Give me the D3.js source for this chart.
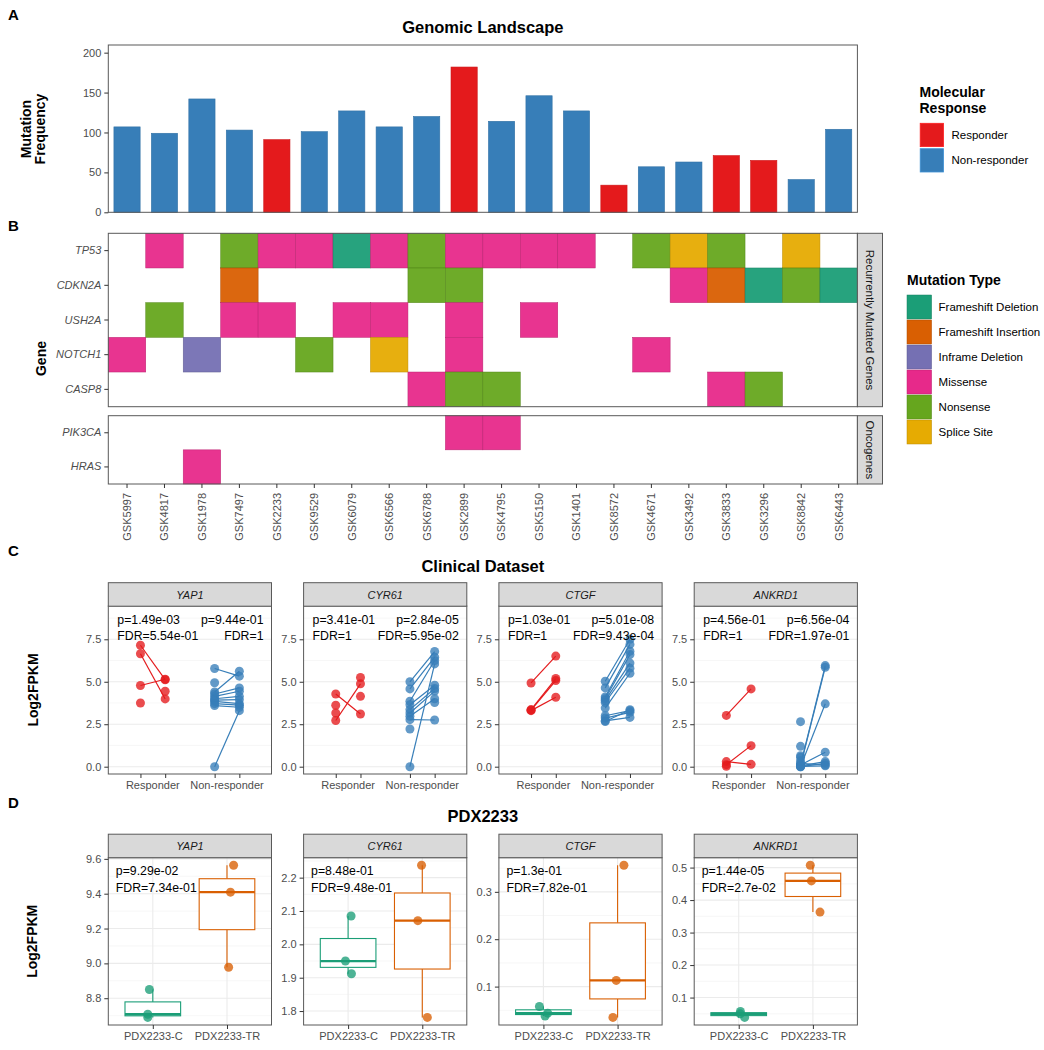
<!DOCTYPE html>
<html>
<head>
<meta charset="utf-8">
<script src="https://cdn.jsdelivr.net/npm/d3@7"></script>
<style>
  body { margin: 0; background: #fff; }
  text { font-family: "Liberation Sans", Arial, sans-serif; }
</style>
</head>
<body>
<div id="chart"></div>
<script>
// ---------- data ----------
const samples = ['GSK5997', 'GSK4817', 'GSK1978', 'GSK7497', 'GSK2233', 'GSK9529', 'GSK6079',
    'GSK6566', 'GSK6788', 'GSK2899', 'GSK4795', 'GSK5150', 'GSK1401', 'GSK8572', 'GSK4671',
    'GSK3492', 'GSK3833', 'GSK3296', 'GSK8842', 'GSK6443'];
const mutationFreq = [107, 99, 142, 103, 91, 101, 127, 107, 120, 182, 114, 146, 127, 34, 57, 63, 71, 65, 41, 104];
const response = ['Non-responder', 'Non-responder', 'Non-responder', 'Non-responder', 'Responder',
    'Non-responder', 'Non-responder', 'Non-responder', 'Non-responder', 'Responder', 'Non-responder',
    'Non-responder', 'Non-responder', 'Responder', 'Non-responder', 'Non-responder', 'Responder',
    'Responder', 'Non-responder', 'Non-responder'];
const responseLevels = ['Responder', 'Non-responder'];

const recurrentGenes = ['TP53', 'CDKN2A', 'USH2A', 'NOTCH1', 'CASP8'];
const oncoGenes = ['PIK3CA', 'HRAS'];
const mutationTypes = ['Frameshift Deletion', 'Frameshift Insertion', 'Inframe Deletion', 'Missense', 'Nonsense', 'Splice Site'];
// one entry per sample (same order as samples)
const mutTP53   = [null, 'Missense', null, 'Nonsense', 'Missense', 'Missense', 'Frameshift Deletion', 'Missense', 'Nonsense', 'Missense', 'Missense', 'Missense', 'Missense', null, 'Nonsense', 'Splice Site', 'Nonsense', null, 'Splice Site', null];
const mutCDKN2A = [null, null, null, 'Frameshift Insertion', null, null, null, null, 'Nonsense', 'Nonsense', null, null, null, null, null, 'Missense', 'Frameshift Insertion', 'Frameshift Deletion', 'Nonsense', 'Frameshift Deletion'];
const mutUSH2A  = [null, 'Nonsense', null, 'Missense', 'Missense', null, 'Missense', 'Missense', null, 'Missense', null, 'Missense', null, null, null, null, null, null, null, null];
const mutNOTCH1 = ['Missense', null, 'Inframe Deletion', null, null, 'Nonsense', null, 'Splice Site', null, 'Missense', null, null, null, null, 'Missense', null, null, null, null, null];
const mutCASP8  = [null, null, null, null, null, null, null, null, 'Missense', 'Nonsense', 'Nonsense', null, null, null, null, null, 'Missense', 'Nonsense', null, null];
const mutPIK3CA = [null, null, null, null, null, null, null, null, null, 'Missense', 'Missense', null, null, null, null, null, null, null, null, null];
const mutHRAS   = [null, null, 'Missense', null, null, null, null, null, null, null, null, null, null, null, null, null, null, null, null, null];

// clinical dataset: paired pre / post values (null = unpaired)
const clinGenes = ['YAP1', 'CYR61', 'CTGF', 'ANKRD1'];
const yap1RespPre  = [7.15, 6.65, 4.78, 3.75, null];
const yap1RespPost = [5.12, 3.99, 5.15, null, 4.44];
const yap1NonPre   = [5.78, 4.94, 4.40, 4.28, 4.14, 4.00, 3.92, 3.85, 3.71, 3.60, 0.00];
const yap1NonPost  = [5.33, null, 5.62, 4.64, 4.44, 4.14, 3.95, 3.71, 3.62, 3.50, 3.30];
const cyr61RespPre  = [4.28, 2.72, 3.62, 3.16, null, null];
const cyr61RespPost = [3.10, 4.88, null, null, 5.25, 4.14];
const cyr61NonPre   = [5.00, 4.58, 3.85, 3.65, 3.36, 3.16, 2.97, 2.77, 0.00, 2.22, null];
const cyr61NonPost  = [6.78, 6.45, 6.25, 4.80, 4.60, 4.45, 4.00, 2.75, 6.05, null, 3.78];
const ctgfRespPre  = [4.93, 3.36, 3.30, 3.33];
const ctgfRespPost = [6.51, 5.19, 4.09, 5.07];
const ctgfNonPre   = [5.03, 4.64, 4.10, 4.00, 3.90, 3.78, 3.45, 3.00, 2.86, 2.70, 2.66];
const ctgfNonPost  = [7.50, 7.20, 6.80, 6.60, 6.10, 5.80, 5.50, 3.30, 3.20, 2.90, 3.35];
const ankrd1RespPre  = [3.02, 0.12, 0.30, 0.02];
const ankrd1RespPost = [4.58, 1.24, 0.14, null];
const ankrd1NonPre   = [0.10, 0.05, 0.00, 0.10, 0.05, 0.00, 0.20, 0.02, 2.65, 1.20, 0.65, 0.55, 0.35];
const ankrd1NonPost  = [5.95, 5.85, 3.70, 0.85, 0.30, 0.20, 0.10, 0.05, null, null, null, null, null];
const clinRespP   = ['p=1.49e-03', 'p=3.41e-01', 'p=1.03e-01', 'p=4.56e-01'];
const clinRespFDR = ['FDR=5.54e-01', 'FDR=1', 'FDR=1', 'FDR=1'];
const clinNonP    = ['p=9.44e-01', 'p=2.84e-05', 'p=5.01e-08', 'p=6.56e-04'];
const clinNonFDR  = ['FDR=1', 'FDR=5.95e-02', 'FDR=9.43e-04', 'FDR=1.97e-01'];

// PDX2233: three replicates per arm, with the jitter seen in the figure
const pdxGroups = ['PDX2233-C', 'PDX2233-TR'];
const yap1C = [8.850, 8.708, 8.690],    yap1TR = [9.563, 9.409, 8.978];
const cyr61C = [2.085, 1.950, 1.912],   cyr61TR = [2.237, 2.071, 1.781];
const ctgfC = [0.058, 0.044, 0.038],    ctgfTR = [0.356, 0.113, 0.035];
const ankrd1C = [0.057, 0.050, 0.039],  ankrd1TR = [0.507, 0.459, 0.363];
const yap1JitC = [-0.046, -0.068, -0.068],  yap1JitTR = [0.089, 0.047, 0.022];
const cyr61JitC = [0.040, -0.036, 0.045],   cyr61JitTR = [-0.010, -0.060, 0.068];
const ctgfJitC = [-0.054, 0.058, 0.023],    ctgfJitTR = [0.085, -0.018, -0.063];
const ankrd1JitC = [0.023, 0.020, 0.080],   ankrd1JitTR = [-0.035, -0.020, 0.096];
const yap1Ticks = [8.8, 9.0, 9.2, 9.4, 9.6];
const cyr61Ticks = [1.8, 1.9, 2.0, 2.1, 2.2];
const ctgfTicks = [0.1, 0.2, 0.3];
const ankrd1Ticks = [0.1, 0.2, 0.3, 0.4, 0.5];
const pdxP   = ['p=9.29e-02', 'p=8.48e-01', 'p=1.3e-01', 'p=1.44e-05'];
const pdxFDR = ['FDR=7.34e-01', 'FDR=9.48e-01', 'FDR=7.82e-01', 'FDR=2.7e-02'];

// ---------- setup ----------
const svg = d3.select('#chart').append('svg')
    .attr('width', 1044).attr('height', 1050);

const frameCol = '#595959', gridCol = '#ebebeb', minorCol = '#f4f4f4', tickText = '#4d4d4d';
const respColor = d3.scaleOrdinal().domain(responseLevels).range(['#E41A1C', '#377EB8']);
const mutColor = d3.scaleOrdinal().domain(mutationTypes)
    .range(['#1B9E77', '#D95F02', '#7570B3', '#E7298A', '#66A61E', '#E6AB02']);
const pdxColor = d3.scaleOrdinal().domain(pdxGroups).range(['#1B9E77', '#D95F02']);

const plotL = 108.3, plotR = 857.4;

function styleAxis(g) {
    g.attr('font-family', null).attr('font-size', null);
    g.select('.domain').remove();
    g.selectAll('line').attr('stroke', '#333');
    g.selectAll('text').attr('fill', tickText).style('font-size', '11px');
}

function label(txt, x, y, size, opts = {}) {
    const t = svg.append('text')
        .attr('x', x).attr('y', y)
        .style('font-size', size + 'px')
        .style('font-weight', opts.bold ? 'bold' : 'normal')
        .style('font-style', opts.italic ? 'italic' : 'normal')
        .attr('fill', opts.fill || '#000')
        .attr('text-anchor', opts.anchor || 'start')
        .text(txt);
    if (opts.rotate) t.attr('transform', `rotate(${opts.rotate},${x},${y})`);
    return t;
}

// ---------- A: genomic landscape ----------
label('A', 8, 20, 15, {bold: true});
label('Genomic Landscape', (plotL + plotR) / 2, 33.3, 16.5, {bold: true, anchor: 'middle'});

const xBar = d3.scaleBand().domain(samples).range([plotL, plotR]).paddingInner(0.3).paddingOuter(0.15);
const yBar = d3.scaleLinear().domain([0, 209.6]).range([212.3, 45]);

const gA = svg.append('g');
gA.selectAll('.bar')
    .data(samples)
    .enter()
    .append('rect')
    .attr('x', d => xBar(d))
    .attr('y', (d, i) => yBar(mutationFreq[i]))
    .attr('width', xBar.bandwidth())
    .attr('height', (d, i) => yBar(0) - yBar(mutationFreq[i]))
    .attr('fill', (d, i) => respColor(response[i]))
    .attr('stroke', (d, i) => d3.color(respColor(response[i])).darker(0.3))
    .attr('stroke-width', 0.6);
gA.append('rect')
    .attr('x', plotL).attr('y', 45).attr('width', plotR - plotL).attr('height', 212.3 - 45)
    .attr('fill', 'none').attr('stroke', frameCol);
gA.append('g')
    .attr('transform', `translate(${plotL},0)`)
    .call(d3.axisLeft(yBar).tickValues([0, 50, 100, 150, 200]).tickSize(4).tickPadding(3))
    .call(styleAxis);
label('Mutation', 30.5, 129, 14, {bold: true, anchor: 'middle', rotate: -90});
label('Frequency', 44.5, 129, 14, {bold: true, anchor: 'middle', rotate: -90});

label('Molecular', 919.5, 97.3, 14, {bold: true});
label('Response', 919.5, 112.7, 14, {bold: true});
responseLevels.forEach((r, i) => {
    svg.append('rect')
        .attr('x', 920.2).attr('y', 123.3 + i * 25.4).attr('width', 23.3).attr('height', 23.3)
        .attr('fill', respColor(r)).attr('stroke', d3.color(respColor(r)).brighter(0.4)).attr('stroke-width', 0.8);
    label(r, 951.5, 123.3 + i * 25.4 + 15.5, 11.5);
});

// ---------- B: mutation heatmap ----------
label('B', 8, 230.5, 15, {bold: true});

const facets = [
    {genes: recurrentGenes, calls: [mutTP53, mutCDKN2A, mutUSH2A, mutNOTCH1, mutCASP8],
        top: 233.3, bottom: 406.7, strip: 'Recurrently Mutated Genes'},
    {genes: oncoGenes, calls: [mutPIK3CA, mutHRAS], top: 415.7, bottom: 484, strip: 'Oncogenes'}
];
const xHeat = d3.scaleBand().domain(samples).range([plotL, plotR]);

facets.forEach(f => {
    const yHeat = d3.scaleBand().domain(f.genes).range([f.top, f.bottom]);
    const cells = [];
    f.genes.forEach((gene, gi) => {
        f.calls[gi].forEach((m, si) => {
            if (m) cells.push({gene: gene, sample: samples[si], type: m});
        });
    });
    const g = svg.append('g');
    g.selectAll('.tile')
        .data(cells)
        .enter()
        .append('rect')
        .attr('x', d => xHeat(d.sample))
        .attr('y', d => yHeat(d.gene))
        .attr('width', xHeat.bandwidth())
        .attr('height', yHeat.bandwidth())
        .attr('fill', d => mutColor(d.type))
        .attr('fill-opacity', 0.95)
        .attr('stroke', d => d3.color(mutColor(d.type)).darker(0.6))
        .attr('stroke-width', 0.5);
    g.append('rect')
        .attr('x', plotL).attr('y', f.top).attr('width', plotR - plotL).attr('height', f.bottom - f.top)
        .attr('fill', 'none').attr('stroke', frameCol);
    g.append('g')
        .attr('transform', `translate(${plotL},0)`)
        .call(d3.axisLeft(yHeat).tickSize(4).tickPadding(3))
        .call(styleAxis)
        .selectAll('text').style('font-style', 'italic');
    // strip on the right
    g.append('rect')
        .attr('x', plotR).attr('y', f.top).attr('width', 25.1).attr('height', f.bottom - f.top)
        .attr('fill', '#d9d9d9').attr('stroke', frameCol);
    const cy = (f.top + f.bottom) / 2;
    g.append('text')
        .attr('transform', `translate(${plotR + 12.5},${cy}) rotate(90)`)
        .attr('text-anchor', 'middle').attr('dy', '0.35em')
        .style('font-size', '11.5px').attr('fill', '#1a1a1a')
        .text(f.strip);
});

svg.append('g')
    .attr('transform', 'translate(0,484)')
    .call(d3.axisBottom(xHeat).tickSize(4))
    .call(styleAxis)
    .selectAll('text')
    .attr('transform', 'rotate(-90)')
    .attr('text-anchor', 'end')
    .attr('x', -9).attr('y', 0).attr('dy', '0.35em');

label('Gene', 46, 358.5, 14, {bold: true, anchor: 'middle', rotate: -90});

label('Mutation Type', 907, 285.3, 14, {bold: true});
mutationTypes.forEach((m, i) => {
    svg.append('rect')
        .attr('x', 907).attr('y', 295 + i * 25).attr('width', 24.6).attr('height', 24)
        .attr('fill', mutColor(m)).attr('stroke', d3.color(mutColor(m)).darker(0.6)).attr('stroke-width', 0.5);
    label(m, 938.6, 295 + i * 25 + 16, 11.5);
});

// ---------- C: clinical dataset ----------
label('C', 8, 555.5, 15, {bold: true});
label('Clinical Dataset', (plotL + plotR) / 2, 571.5, 16.5, {bold: true, anchor: 'middle'});

const facetW = 163.2, facetGap = 32.1;
const clinical = [
    {rPre: yap1RespPre, rPost: yap1RespPost, nPre: yap1NonPre, nPost: yap1NonPost},
    {rPre: cyr61RespPre, rPost: cyr61RespPost, nPre: cyr61NonPre, nPost: cyr61NonPost},
    {rPre: ctgfRespPre, rPost: ctgfRespPost, nPre: ctgfNonPre, nPost: ctgfNonPost},
    {rPre: ankrd1RespPre, rPost: ankrd1RespPost, nPre: ankrd1NonPre, nPost: ankrd1NonPost}
];

function strip(x0, y0, w, txt) {
    svg.append('rect')
        .attr('x', x0).attr('y', y0).attr('width', w).attr('height', 23.5)
        .attr('fill', '#d9d9d9').attr('stroke', frameCol);
    label(txt, x0 + w / 2, y0 + 16, 11, {italic: true, anchor: 'middle', fill: '#1a1a1a'});
}

clinGenes.forEach((gene, i) => {
    const left = plotL + i * (facetW + facetGap);
    const top = 606, bottom = 774;
    const xs = d3.scaleLinear().domain([-0.3, 6.3]).range([left, left + facetW]);
    const ys = d3.scaleLinear().domain([-0.43, 9.46]).range([bottom, top]);
    const g = svg.append('g');

    g.selectAll('.minor')
        .data([1.25, 3.75, 6.25, 8.75])
        .enter().append('line')
        .attr('x1', left).attr('x2', left + facetW)
        .attr('y1', d => ys(d)).attr('y2', d => ys(d))
        .attr('stroke', minorCol).attr('stroke-width', 0.7);
    g.selectAll('.major')
        .data([0, 2.5, 5, 7.5])
        .enter().append('line')
        .attr('x1', left).attr('x2', left + facetW)
        .attr('y1', d => ys(d)).attr('y2', d => ys(d))
        .attr('stroke', gridCol).attr('stroke-width', 1.1);

    const c = clinical[i];
    const groups = [
        {pre: c.rPre, post: c.rPost, x0: 1, x1: 2, col: respColor('Responder')},
        {pre: c.nPre, post: c.nPost, x0: 4, x1: 5, col: respColor('Non-responder')}
    ];
    groups.forEach(gr => {
        const pairs = gr.pre.map((v, k) => ({pre: v, post: gr.post[k]}));
        g.selectAll(null)
            .data(pairs.filter(p => p.pre !== null && p.post !== null))
            .enter().append('line')
            .attr('x1', xs(gr.x0)).attr('x2', xs(gr.x1))
            .attr('y1', d => ys(d.pre)).attr('y2', d => ys(d.post))
            .attr('stroke', gr.col).attr('stroke-width', 1.2);
        const pts = [];
        pairs.forEach(p => {
            if (p.pre !== null) pts.push({x: gr.x0, y: p.pre});
            if (p.post !== null) pts.push({x: gr.x1, y: p.post});
        });
        g.selectAll(null)
            .data(pts)
            .enter().append('circle')
            .attr('cx', d => xs(d.x)).attr('cy', d => ys(d.y))
            .attr('r', 4.5)
            .attr('fill', gr.col).attr('fill-opacity', 0.78);
    });

    g.append('rect')
        .attr('x', left).attr('y', top).attr('width', facetW).attr('height', bottom - top)
        .attr('fill', 'none').attr('stroke', frameCol);
    strip(left, 582.7, facetW, gene);

    g.append('g')
        .attr('transform', `translate(${left},0)`)
        .call(d3.axisLeft(ys).tickValues([0, 2.5, 5, 7.5]).tickFormat(d3.format('.1f')).tickSize(4).tickPadding(3))
        .call(styleAxis);
    g.append('g')
        .attr('transform', `translate(0,${bottom})`)
        .call(d3.axisBottom(xs).tickValues([1, 2, 4, 5]).tickFormat('').tickSize(4))
        .call(styleAxis);
    label('Responder', xs(1.5), 789, 11, {anchor: 'middle', fill: tickText});
    label('Non-responder', xs(4.5), 789, 11, {anchor: 'middle', fill: tickText});

    label(clinRespP[i], left + 9, top + 17.5, 12.3);
    label(clinRespFDR[i], left + 9, top + 34, 12.3);
    label(clinNonP[i], left + facetW - 8, top + 17.5, 12.3, {anchor: 'end'});
    label(clinNonFDR[i], left + facetW - 8, top + 34, 12.3, {anchor: 'end'});
});
label('Log2FPKM', 37.5, 690, 14, {bold: true, anchor: 'middle', rotate: -90});

// ---------- D: PDX2233 ----------
label('D', 8, 807.5, 15, {bold: true});
label('PDX2233', (plotL + plotR) / 2, 822.3, 16.5, {bold: true, anchor: 'middle'});

const pdx = [
    {c: yap1C, tr: yap1TR, jc: yap1JitC, jtr: yap1JitTR, ticks: yap1Ticks},
    {c: cyr61C, tr: cyr61TR, jc: cyr61JitC, jtr: cyr61JitTR, ticks: cyr61Ticks},
    {c: ctgfC, tr: ctgfTR, jc: ctgfJitC, jtr: ctgfJitTR, ticks: ctgfTicks},
    {c: ankrd1C, tr: ankrd1TR, jc: ankrd1JitC, jtr: ankrd1JitTR, ticks: ankrd1Ticks}
];

clinGenes.forEach((gene, i) => {
    const left = plotL + i * (facetW + facetGap);
    const top = 857.7, bottom = 1025;
    const p = pdx[i];
    const ext = d3.extent(p.c.concat(p.tr));
    const pad = (ext[1] - ext[0]) * 0.05;
    const xs = d3.scalePoint().domain(pdxGroups).range([left, left + facetW]).padding(0.6);
    const ys = d3.scaleLinear().domain([ext[0] - pad, ext[1] + pad]).range([bottom, top]);
    const step = xs.step();
    const g = svg.append('g');

    const tk = p.ticks, half = (tk[1] - tk[0]) / 2;
    const minors = [tk[0] - half].concat(tk.map(t => t + half))
        .filter(v => v > ys.domain()[0] && v < ys.domain()[1]);
    g.selectAll(null).data(minors).enter().append('line')
        .attr('x1', left).attr('x2', left + facetW)
        .attr('y1', d => ys(d)).attr('y2', d => ys(d))
        .attr('stroke', minorCol).attr('stroke-width', 0.7);
    g.selectAll(null).data(tk).enter().append('line')
        .attr('x1', left).attr('x2', left + facetW)
        .attr('y1', d => ys(d)).attr('y2', d => ys(d))
        .attr('stroke', gridCol).attr('stroke-width', 1.1);
    g.selectAll(null).data(pdxGroups).enter().append('line')
        .attr('x1', d => xs(d)).attr('x2', d => xs(d))
        .attr('y1', top).attr('y2', bottom)
        .attr('stroke', gridCol).attr('stroke-width', 1.1);

    const arms = [
        {grp: 'PDX2233-C', vals: p.c, jit: p.jc},
        {grp: 'PDX2233-TR', vals: p.tr, jit: p.jtr}
    ];
    arms.forEach(a => {
        const col = pdxColor(a.grp);
        const s = a.vals.slice().sort(d3.ascending);
        const q1 = d3.quantile(s, 0.25), med = d3.quantile(s, 0.5), q3 = d3.quantile(s, 0.75);
        const iqr = q3 - q1;
        const lo = d3.min(s.filter(v => v >= q1 - 1.5 * iqr));
        const hi = d3.max(s.filter(v => v <= q3 + 1.5 * iqr));
        const cx = xs(a.grp), bw = step * 0.75;
        g.append('line').attr('x1', cx).attr('x2', cx).attr('y1', ys(hi)).attr('y2', ys(q3))
            .attr('stroke', col).attr('stroke-width', 1.1);
        g.append('line').attr('x1', cx).attr('x2', cx).attr('y1', ys(q1)).attr('y2', ys(lo))
            .attr('stroke', col).attr('stroke-width', 1.1);
        g.append('rect')
            .attr('x', cx - bw / 2).attr('y', ys(q3)).attr('width', bw).attr('height', ys(q1) - ys(q3))
            .attr('fill', '#fff').attr('stroke', col).attr('stroke-width', 1.1);
        g.append('line').attr('x1', cx - bw / 2).attr('x2', cx + bw / 2).attr('y1', ys(med)).attr('y2', ys(med))
            .attr('stroke', col).attr('stroke-width', 2.3);
        g.selectAll(null)
            .data(a.vals)
            .enter().append('circle')
            .attr('cx', (d, k) => cx + a.jit[k] * step)
            .attr('cy', d => ys(d))
            .attr('r', 4.5)
            .attr('fill', col).attr('fill-opacity', 0.78);
    });

    g.append('rect')
        .attr('x', left).attr('y', top).attr('width', facetW).attr('height', bottom - top)
        .attr('fill', 'none').attr('stroke', frameCol);
    strip(left, 834.2, facetW, gene);

    g.append('g')
        .attr('transform', `translate(${left},0)`)
        .call(d3.axisLeft(ys).tickValues(tk).tickFormat(d3.format('.1f')).tickSize(4).tickPadding(3))
        .call(styleAxis);
    g.append('g')
        .attr('transform', `translate(0,${bottom})`)
        .call(d3.axisBottom(xs).tickSize(4).tickPadding(3))
        .call(styleAxis);

    label(pdxP[i], left + 7.5, top + 17, 12.3);
    label(pdxFDR[i], left + 7.5, top + 34, 12.3);
});
label('Log2FPKM', 37.5, 941.3, 14, {bold: true, anchor: 'middle', rotate: -90});
</script>
</body>
</html>
